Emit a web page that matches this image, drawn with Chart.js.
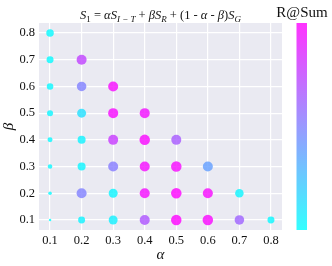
<!DOCTYPE html>
<html><head><meta charset="utf-8">
<script src="https://cdn.jsdelivr.net/npm/chart.js@4"></script>
<style>html,body{margin:0;padding:0;background:#fff}#wrap{width:332px;height:266px}</style>
</head><body><div id="wrap"><canvas id="c" width="332" height="266"></canvas></div>
<script>
// grid positions (alpha, beta), colour score (R@Sum, normalised) and size score
const alphaVals = [0.1,0.1,0.1,0.1,0.1,0.1,0.1,0.1, 0.2,0.2,0.2,0.2,0.2,0.2,0.2, 0.3,0.3,0.3,0.3,0.3,0.3, 0.4,0.4,0.4,0.4,0.4, 0.5,0.5,0.5,0.5, 0.6,0.6,0.6, 0.7,0.7, 0.8];
const betaVals  = [0.8,0.7,0.6,0.5,0.4,0.3,0.2,0.1, 0.7,0.6,0.5,0.4,0.3,0.2,0.1, 0.6,0.5,0.4,0.3,0.2,0.1, 0.5,0.4,0.3,0.2,0.1, 0.4,0.3,0.2,0.1, 0.3,0.2,0.1, 0.2,0.1, 0.1];
const rSumScore = [0.02,0.02,0.03,0.04,0.03,0.03,0.02,0.02, 0.75,0.5,0.12,0.05,0.04,0.5,0.05, 0.97,0.97,0.78,0.52,0.04,0.06, 0.95,0.98,0.96,0.96,0.68, 0.65,0.97,1.0,1.0, 0.38,0.97,0.98, 0.04,0.62, 0.03];
const sizeScore = [0.63,0.56,0.5,0.44,0.31,0.25,0.13,0.0, 0.94,0.88,0.81,0.69,0.69,0.94,0.56, 0.94,0.94,0.94,0.94,0.81,0.81, 0.94,1.0,0.94,0.94,0.94, 0.94,1.0,1.0,1.0, 0.94,0.94,1.0, 0.75,0.88, 0.56];
const xTicks = [0.1,0.2,0.3,0.4,0.5,0.6,0.7,0.8];
const yTicks = [0.1,0.2,0.3,0.4,0.5,0.6,0.7,0.8];
const xTickLabels = ['0.1','0.2','0.3','0.4','0.5','0.6','0.7','0.8'];
const yTickLabels = ['0.1','0.2','0.3','0.4','0.5','0.6','0.7','0.8'];
const colorbarTitle = 'R@Sum';

function cool(t, a){ return `rgba(${Math.round(255*t)},${Math.round(255*(1-t))},255,${a})`; }

const points = alphaVals.map((a,i)=>({x:a, y:betaVals[i]}));
const SERIF = '"Liberation Serif","DejaVu Serif",serif';
const INK = '#111';

const bgPlugin = {
  id:'bg',
  beforeDraw(chart){
    const {ctx, chartArea:ca} = chart;
    ctx.save(); ctx.fillStyle = '#EAEAF2';
    ctx.fillRect(ca.left, ca.top, ca.right-ca.left, ca.bottom-ca.top);
    ctx.restore();
  },
  afterDraw(chart){
    const {ctx, chartArea:ca} = chart;
    ctx.save();
    // colorbar
    const cbL = 296.5, cbW = 10.5, cbT = ca.top, cbB = ca.bottom;
    const g = ctx.createLinearGradient(0, cbB, 0, cbT);
    for (let i=0;i<=10;i++){ g.addColorStop(i/10, cool(i/10, 0.8)); }
    ctx.fillStyle = g; ctx.fillRect(cbL, cbT, cbW, cbB-cbT);
    ctx.fillStyle = INK; ctx.textAlign = 'center'; ctx.textBaseline = 'alphabetic';
    ctx.font = '15px ' + SERIF;
    ctx.fillText(colorbarTitle, 302, 17);
    // math title
    const segs = [
      ['S','i',0],['1','n',1],[' = ','n',0],['α','i',0],['S','i',0],['I − T','i',1],
      [' + ','n',0],['β','i',0],['S','i',0],['R','i',1],[' + (1 - ','n',0],['α','i',0],
      [' - ','n',0],['β','i',0],[')','n',0],['S','i',0],['G','i',1]];
    const fs = 12.5, sfs = 9;
    const fontOf = s => (s[1]==='i'?'italic ':'') + (s[2]? sfs: fs) + 'px ' + SERIF;
    let total = 0;
    segs.forEach(s=>{ ctx.font = fontOf(s); total += ctx.measureText(s[0]).width; });
    let x = (ca.left+ca.right)/2 - total/2; const base = 19;
    ctx.textAlign = 'left';
    segs.forEach(s=>{ ctx.font = fontOf(s); ctx.fillText(s[0], x, base + (s[2]?2.5:0)); x += ctx.measureText(s[0]).width; });
    ctx.restore();
  }
};

new Chart(document.getElementById('c'), {
  type:'scatter',
  data:{datasets:[{
    data: points,
    pointRadius: c => 1.25 + 4*sizeScore[c.dataIndex],
    pointHoverRadius: c => 1.25 + 4*sizeScore[c.dataIndex],
    backgroundColor: c => cool(rSumScore[c.dataIndex], 0.8),
    borderWidth: 0
  }]},
  options:{
    responsive:false, animation:false, devicePixelRatio:1,
    layout:{padding:{left:0,right:50,top:23,bottom:0}},
    plugins:{legend:{display:false}, tooltip:{enabled:false}},
    scales:{
      x:{type:'linear', min:0.065, max:0.835,
        afterBuildTicks: s => { s.ticks = xTicks.map(v=>({value:v})); },
        afterFit: s => { s.height = 36; },
        ticks:{callback:(v,i)=>xTickLabels[i], color:INK, font:{family:SERIF, size:12.5}, padding:3, maxRotation:0},
        grid:{color:'#fff', lineWidth:1.2, drawTicks:false}, border:{display:false},
        title:{display:true, text:'α', color:INK, font:{family:SERIF, size:15, style:'italic'}, padding:{top:0,bottom:2}}
      },
      y:{type:'linear', min:0.0625, max:0.8375,
        afterBuildTicks: s => { s.ticks = yTicks.map(v=>({value:v})); },
        afterFit: s => { s.width = 39; },
        ticks:{callback:(v,i)=>yTickLabels[i], color:INK, font:{family:SERIF, size:12.5}, padding:4},
        grid:{color:'#fff', lineWidth:1.2, drawTicks:false}, border:{display:false},
        title:{display:true, text:'β', color:INK, font:{family:SERIF, size:15, style:'italic'}, padding:{top:0,bottom:0}}
      }
    }
  },
  plugins:[bgPlugin]
});
</script></body></html>
